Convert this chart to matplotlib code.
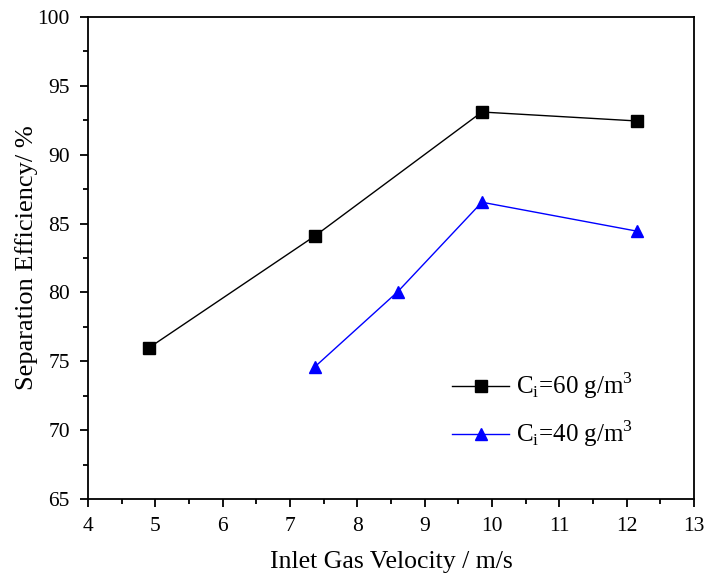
import matplotlib
matplotlib.use("Agg")
import matplotlib.pyplot as plt
from matplotlib.ticker import MultipleLocator

plt.rcParams['font.family'] = ['Liberation Serif', 'DejaVu Serif']
plt.rcParams['mathtext.fontset'] = 'custom'
plt.rcParams['mathtext.rm'] = 'Liberation Serif'

# data
vel_60 = [4.9, 7.37, 9.85, 12.15]
eff_60 = [75.96, 84.1, 93.1, 92.45]
vel_40 = [7.37, 8.6, 9.85, 12.15]
eff_40 = [74.6, 80.05, 86.55, 84.45]

fig = plt.figure(figsize=(7.05, 5.74), dpi=100)
ax = fig.add_axes([0.1248, 0.1307, 0.8596, 0.8397])

ax.plot(vel_60, eff_60, color='black', lw=1, marker='s', ms=8,
        label=r'C$_\mathrm{i}$=60 g/m$^\mathrm{3}$')
ax.plot(vel_40, eff_40, color='blue', lw=1, marker='^', ms=9,
        label=r'C$_\mathrm{i}$=40 g/m$^\mathrm{3}$')

ax.set_xlim(4, 13)
ax.set_ylim(65, 100)
ax.xaxis.set_major_locator(MultipleLocator(1))
ax.xaxis.set_minor_locator(MultipleLocator(0.5))
ax.yaxis.set_major_locator(MultipleLocator(5))
ax.yaxis.set_minor_locator(MultipleLocator(2.5))
ax.tick_params(which='both', direction='out', top=False, right=False,
               width=1.3, labelsize=15.5)
ax.tick_params(which='major', length=6, pad=7)
ax.tick_params(which='minor', length=3.5)
for s in ax.spines.values():
    s.set_linewidth(1.3)

ax.set_xlabel('Inlet Gas Velocity / m/s', fontsize=18.5, labelpad=11)
ax.set_ylabel('Separation Efficiency/ %', fontsize=19, labelpad=0)

ax.legend(loc='lower right', bbox_to_anchor=(0.936, 0.056), frameon=False,
          fontsize=18, handlelength=2.3, handletextpad=0.25, labelspacing=0.7)

fig.savefig('out.png', dpi=100)
